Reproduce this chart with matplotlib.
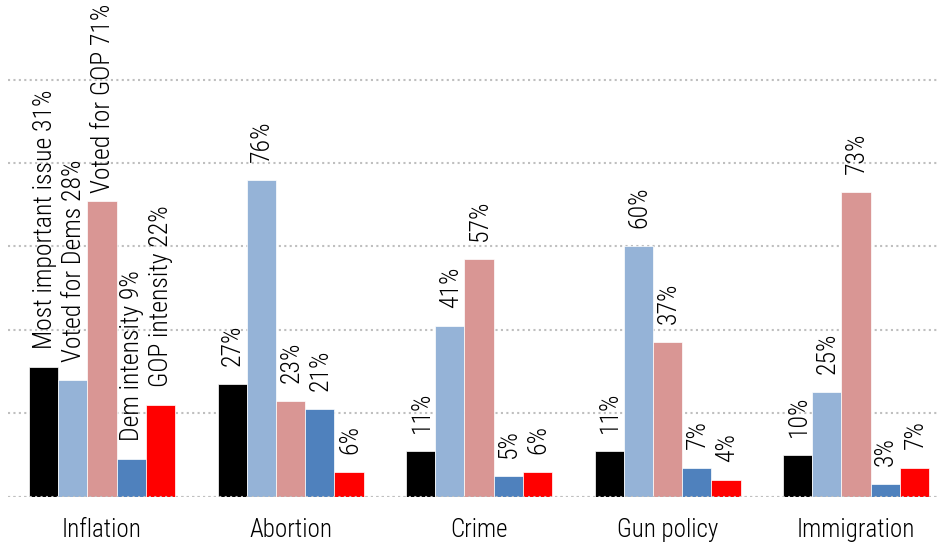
import matplotlib.pyplot as plt
import numpy as np

# issue importance survey, share of respondents by issue
categories = ["Inflation", "Abortion", "Crime", "Gun policy", "Immigration"]
series = ["Most important issue", "Voted for Dems", "Voted for GOP",
          "Dem intensity", "GOP intensity"]
most_important = [31, 27, 11, 11, 10]
voted_dems = [28, 76, 41, 60, 25]
voted_gop = [71, 23, 57, 37, 73]
dem_intensity = [9, 21, 5, 7, 3]
gop_intensity = [22, 6, 6, 4, 7]

values = [most_important, voted_dems, voted_gop, dem_intensity, gop_intensity]
colors = ["#000000", "#95B3D7", "#D99694", "#4F81BD", "#FF0000"]

plt.rcParams['font.family'] = ['Roboto Condensed', 'Liberation Sans Narrow', 'DejaVu Sans']
plt.rcParams['font.weight'] = 'light'

fig = plt.figure(figsize=(9.38, 5.46), dpi=100)
ax = fig.add_axes([7.8 / 938, 49.3 / 546, 942.5 / 938, 496.7 / 546])

x = np.arange(len(categories))
w = 0.155
grid_style = dict(color="#BFBFBF", linestyle=(0, (1.0, 1.6)), linewidth=1.5)

labels = []
for j, (vals, col) in enumerate(zip(values, colors)):
    pos = x + (j - 2) * w
    bars = ax.bar(pos, vals, width=w, color=col, edgecolor="white",
                  linewidth=0.5, zorder=2)
    for i, (b, v) in enumerate(zip(bars, vals)):
        txt = f"{v}%"
        if i == 0:
            txt = f"{series[j]} {v}%"
        ann = ax.annotate(txt, (b.get_x() + b.get_width() / 2 + 0.005, v),
                          xytext=(0, 13), textcoords="offset points",
                          rotation=90, ha="center", va="bottom",
                          fontsize=18.5, color="black")
        labels.append(ann)

ax.set_xlim(-0.5, len(categories) - 0.5)
ax.set_ylim(0, 119.1)
ax.set_yticks([0, 20, 40, 60, 80, 100])
ax.yaxis.grid(True, zorder=0, **grid_style)
ax.set_axisbelow(True)
ax.axhline(0, zorder=3, **grid_style)
ax.set_yticklabels([])
ax.tick_params(axis="y", length=0)
ax.set_xticks(x)
ax.set_xticklabels(categories, fontsize=18)
ax.tick_params(axis="x", length=0, pad=15)
for s in ax.spines.values():
    s.set_visible(False)

# keep long labels inside the figure: slide them down if they run off the top
fig.canvas.draw()
renderer = fig.canvas.get_renderer()
H = fig.bbox.height
for ann in labels:
    bb = ann.get_window_extent(renderer)
    over = bb.y1 - (H - 4)
    if over > 0:
        dx, dy = ann.xyann
        ann.xyann = (dx, dy - over * 72 / fig.dpi)

plt.savefig("out.png", dpi=100)
